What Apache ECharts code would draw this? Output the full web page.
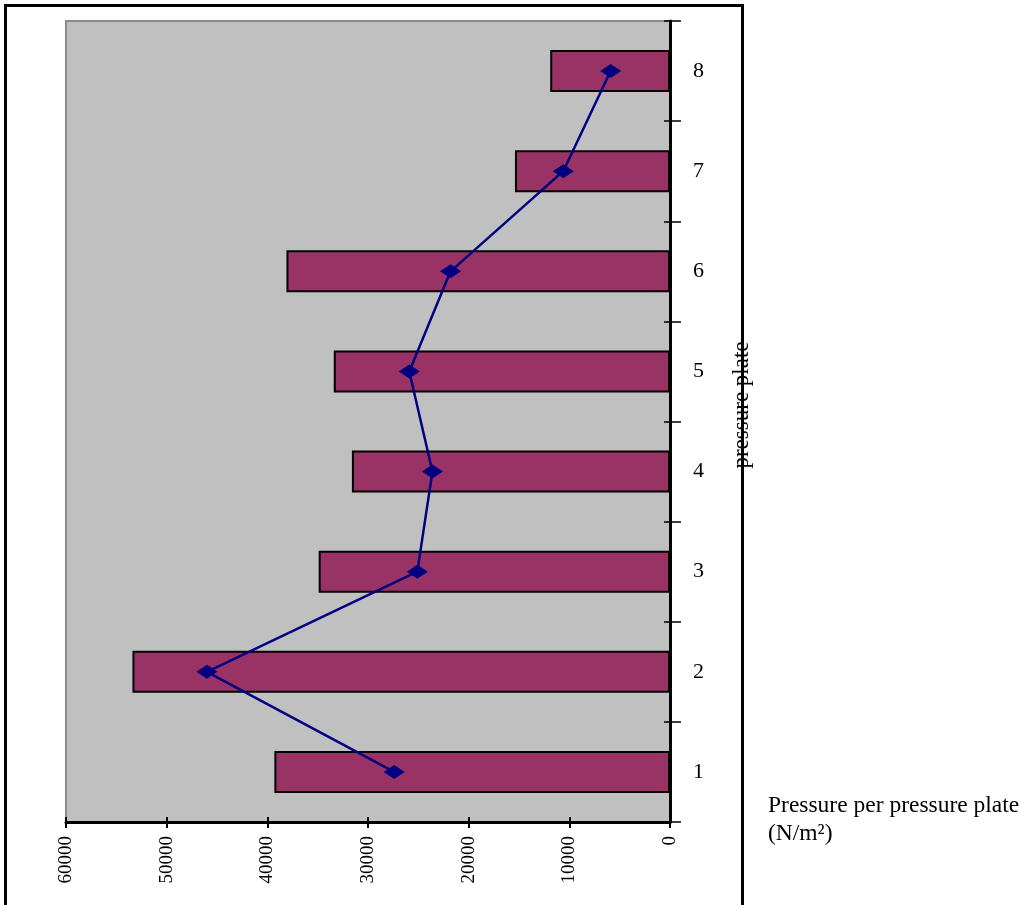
<!DOCTYPE html>
<html>
<head>
<meta charset="utf-8">
<script src="https://cdn.jsdelivr.net/npm/echarts@6/dist/echarts.min.js"></script>
<style>
  body { margin: 0; background: #fff; }
  #chart { width: 1032px; height: 905px; }
</style>
</head>
<body>
<div id="chart"></div>
<script>
// pressure plates 1..8 (bottom to top)
const plates = ['1', '2', '3', '4', '5', '6', '7', '8']
// bar series (N/m²)
const barValues = [39300, 53400, 34900, 31600, 33400, 38100, 15400, 11900]
// line series (N/m²)
const lineValues = [27400, 46000, 25100, 23600, 25900, 21800, 10600, 5900]
// value axis ticks
const valueMin = 0
const valueMax = 60000
const valueStep = 10000

const serif = 'Liberation Serif'

const chart = echarts.init(document.getElementById('chart'))

const option = {
  backgroundColor: '#ffffff',
  animation: false,
  grid: {
    left: 66,
    right: 362,
    top: 21,
    bottom: 83,
    show: true,
    backgroundColor: '#c0c0c0',
    borderColor: '#8a8a8a',
    borderWidth: 2
  },
  xAxis: [
    {
      type: 'value',
      position: 'bottom',
      inverse: true,
      min: valueMin,
      max: valueMax,
      interval: valueStep,
      splitLine: { show: false },
      axisLine: { show: true, lineStyle: { color: '#000', width: 3 } },
      axisTick: { show: true, length: 6, lineStyle: { color: '#000', width: 2 } },
      axisLabel: {
        rotate: 90,
        margin: 14,
        color: '#000',
        fontFamily: serif,
        fontSize: 19,
        formatter: (v) => String(v)
      }
    },
    {
      // inner half of the crossing ticks
      type: 'value',
      position: 'bottom',
      inverse: true,
      min: valueMin,
      max: valueMax,
      interval: valueStep,
      splitLine: { show: false },
      axisLine: { show: false },
      axisTick: { show: true, inside: true, length: 5, lineStyle: { color: '#000', width: 2 } },
      axisLabel: { show: false }
    }
  ],
  yAxis: [
    {
      type: 'category',
      position: 'right',
      data: plates,
      axisLine: { show: true, lineStyle: { color: '#000', width: 3 } },
      axisTick: { show: true, length: 11, lineStyle: { color: '#000', width: 1.5 } },
      axisLabel: {
        margin: 23,
        color: '#000',
        fontFamily: serif,
        fontSize: 22
      }
    },
    {
      type: 'category',
      position: 'right',
      data: plates,
      axisLine: { show: false },
      axisTick: { show: true, inside: true, length: 6, lineStyle: { color: '#000', width: 1.5 } },
      axisLabel: { show: false }
    }
  ],
  series: [
    {
      type: 'bar',
      xAxisIndex: 0,
      yAxisIndex: 0,
      data: barValues,
      barCategoryGap: '58%',
      itemStyle: {
        color: '#993366',
        borderColor: '#000',
        borderWidth: 2
      }
    },
    {
      type: 'line',
      xAxisIndex: 0,
      yAxisIndex: 0,
      data: lineValues,
      z: 5,
      symbol: 'diamond',
      symbolSize: [21, 14],
      itemStyle: { color: '#000080' },
      lineStyle: { color: '#000080', width: 2.5 }
    }
  ],
  graphic: [
    {
      type: 'rect',
      shape: { x: 5.5, y: 5.5, width: 737, height: 930 },
      style: { fill: 'none', stroke: '#000', lineWidth: 3 },
      z: 100
    },
    {
      type: 'text',
      x: 742,
      y: 405,
      rotation: Math.PI / 2,
      z: 101,
      style: {
        text: 'pressure plate',
        fontFamily: serif,
        fontSize: 23,
        fill: '#000',
        align: 'center',
        verticalAlign: 'middle'
      }
    },
    {
      type: 'text',
      x: 768,
      y: 792,
      z: 101,
      style: {
        text: 'Pressure per pressure plate\n(N/m²)',
        fontFamily: serif,
        fontSize: 23.5,
        lineHeight: 28,
        fill: '#000',
        align: 'left',
        verticalAlign: 'top'
      }
    }
  ]
}

chart.setOption(option)

window.addEventListener('resize', () => {
  chart.resize()
})
</script>
</body>
</html>
